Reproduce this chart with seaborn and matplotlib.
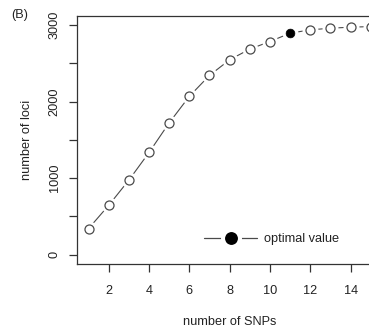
import matplotlib
matplotlib.use("Agg")
import matplotlib.pyplot as plt
from matplotlib.lines import Line2D
from matplotlib.legend_handler import HandlerTuple
from matplotlib.ticker import MultipleLocator
import numpy as np
import pandas as pd
import seaborn as sns

# Number of loci retained for each SNP count
n_snps = [1, 2, 3, 4, 5, 6, 7, 8, 9, 10, 11, 12, 13, 14, 15]
n_loci = [343, 646, 975, 1335, 1722, 2068, 2341, 2545, 2684, 2783, 2892, 2935, 2957, 2970, 2978]
optimal_snps = 11

x_ticks = [2, 4, 6, 8, 10, 12, 14]
y_ticks = [0, 1000, 2000, 3000]

df = pd.DataFrame({"snps": n_snps, "loci": n_loci})
df["optimal"] = df["snps"] == optimal_snps

sns.set_style("white")
plt.rcParams["font.family"] = ["Liberation Sans", "DejaVu Sans"]

ink = "#222222"
line_col = "#4a4a4a"
fs = 9.2

fig = plt.figure(figsize=(3.69, 3.30), dpi=100)
ax = fig.add_axes([77.3 / 369, 66 / 330, 304.7 / 369, 248.3 / 330])

# connecting line, then white halos to open gaps around each point
sns.lineplot(data=df, x="snps", y="loci", ax=ax, color=line_col, lw=0.8,
             legend=False)
ax.lines[-1].set_zorder(1)
sns.scatterplot(data=df, x="snps", y="loci", ax=ax, s=11.5 ** 2,
                color="white", edgecolor="white", linewidth=0, zorder=2,
                legend=False)
sns.scatterplot(data=df[~df["optimal"]], x="snps", y="loci", ax=ax,
                s=6.5 ** 2, facecolor="white", edgecolor=line_col,
                linewidth=0.9, zorder=3, legend=False)
sns.scatterplot(data=df[df["optimal"]], x="snps", y="loci", ax=ax,
                s=6.3 ** 2, color="black", edgecolor="black",
                linewidth=0.5, zorder=3, legend=False)

ax.set_xlim(0.44, 15.56)
ax.set_ylim(-120, 3120)

ax.set_xticks(x_ticks)
ax.set_yticks(y_ticks)
ax.yaxis.set_minor_locator(MultipleLocator(500))
ax.tick_params(axis="both", which="both", direction="out", length=6,
               width=0.9, color="#333333", labelsize=fs, labelcolor=ink)
ax.tick_params(axis="x", pad=9, bottom=True)
ax.tick_params(axis="y", which="both", left=True)
ax.tick_params(axis="y", pad=6)
for lbl in ax.get_yticklabels():
    lbl.set_rotation(90)
    lbl.set_va("center")

for side in ["left", "bottom", "top", "right"]:
    ax.spines[side].set_visible(True)
    ax.spines[side].set_color("#333333")
    ax.spines[side].set_linewidth(0.9)

ax.set_xlabel("number of SNPs", fontsize=fs, color=ink, labelpad=14)
ax.set_ylabel("number of loci", fontsize=fs, color=ink, labelpad=11)

# legend entry: line through a large filled dot with a white gap
seg = Line2D([], [], color=line_col, lw=0.9)
dot = Line2D([], [], marker="o", ls="none", ms=12.2, mfc="black",
             mec="white", mew=2.9)
ax.legend([(seg, dot)], ["optimal value"],
          handler_map={tuple: HandlerTuple(ndivide=1, pad=0)},
          loc="center left", bbox_to_anchor=(0.415, 0.10),
          frameon=False, fontsize=fs, handlelength=4.2, handletextpad=0.55,
          borderpad=0, borderaxespad=0, labelcolor=ink)

fig.text(20 / 369, 1 - 15 / 330, "(B)", fontsize=fs, color=ink,
         ha="center", va="center")

fig.savefig("out.png", dpi=100)
